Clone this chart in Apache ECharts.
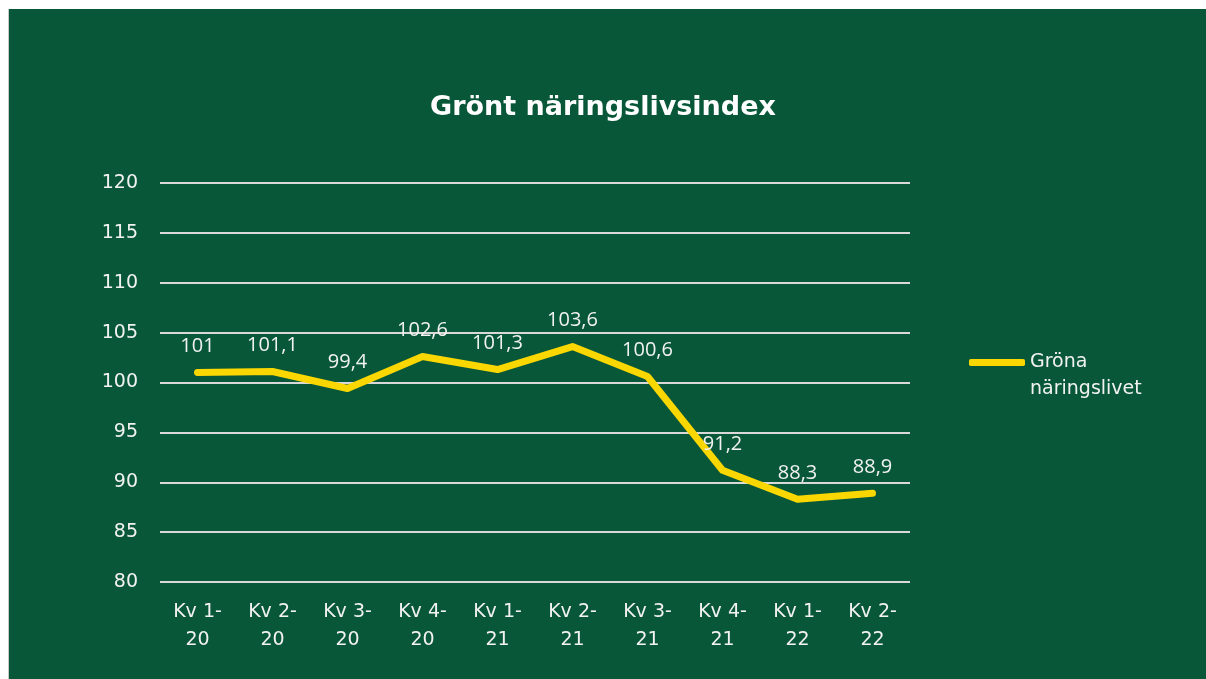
<!DOCTYPE html>
<html lang="sv">
<head>
<meta charset="UTF-8">
<script src="https://cdn.jsdelivr.net/npm/echarts@6.0.0/dist/echarts.min.js"></script>
<title>Grönt näringslivsindex</title>
<style>
  html, body { margin: 0; padding: 0; background: #ffffff; }
  #tu { position: absolute; left: 8px; top: 9px; width: 1198px; height: 670px; background: #075738; border-left: 1px solid #c8c8c8; box-sizing: border-box; }
</style>
</head>
<body>
<div id="tu"></div>
<script type="text/javascript">
    // kvartal och indexvärden
    var kvartal = ['Kv 1-\n20', 'Kv 2-\n20', 'Kv 3-\n20', 'Kv 4-\n20', 'Kv 1-\n21', 'Kv 2-\n21', 'Kv 3-\n21', 'Kv 4-\n21', 'Kv 1-\n22', 'Kv 2-\n22'];
    var gronaNaringslivet = [101, 101.1, 99.4, 102.6, 101.3, 103.6, 100.6, 91.2, 88.3, 88.9];
    var serieNamn = 'Gröna näringslivet';

    var thisChart = echarts.init(document.getElementById('tu'));
    var option = {
        title: {
            text: 'Grönt näringslivsindex',
            left: 416,
            top: 80,
            textStyle: { color: '#ffffff', fontSize: 27, fontWeight: 'bold', fontFamily: 'DejaVu Sans' }
        },
        legend: {
            data: [serieNamn],
            left: 955,
            top: 308,
            icon: 'roundRect',
            itemWidth: 56,
            itemHeight: 7,
            itemGap: 6,
            // tom rad först så att linjen hamnar vid första raden
            formatter: function (n) { return ' \n' + n.replace(' ', '\n'); },
            textStyle: { color: '#f2f2f2', fontSize: 19, fontFamily: 'DejaVu Sans', lineHeight: 27 }
        },
        grid: { left: 151, right: 296, top: 174, bottom: 97 },
        xAxis: {
            type: 'category',
            data: kvartal,
            boundaryGap: true,
            axisLine: { show: false },
            axisTick: { show: false },
            axisLabel: { color: '#f2f2f2', fontSize: 19, fontFamily: 'DejaVu Sans', lineHeight: 28, margin: 16, interval: 0 }
        },
        yAxis: {
            type: 'value',
            min: 80,
            max: 120,
            interval: 5,
            axisLine: { show: false },
            axisTick: { show: false },
            axisLabel: { color: '#f2f2f2', fontSize: 19, fontFamily: 'DejaVu Sans', margin: 22 },
            splitLine: { lineStyle: { color: '#d9d9d9', width: 2 } }
        },
        series: [{
            name: serieNamn,
            type: 'line',
            data: gronaNaringslivet,
            symbol: 'circle',
            symbolSize: 2,
            showSymbol: true,
            lineStyle: { color: '#fad700', width: 7, cap: 'round', join: 'round' },
            itemStyle: { color: '#fad700' },
            label: {
                show: true,
                position: 'top',
                distance: 15,
                color: '#f2f2f2',
                fontSize: 20,
                fontFamily: 'Open Sans',
                formatter: function (p) { return String(p.value).replace('.', ','); }
            }
        }]
    };
    thisChart.setOption(option);
</script>
</body>
</html>
